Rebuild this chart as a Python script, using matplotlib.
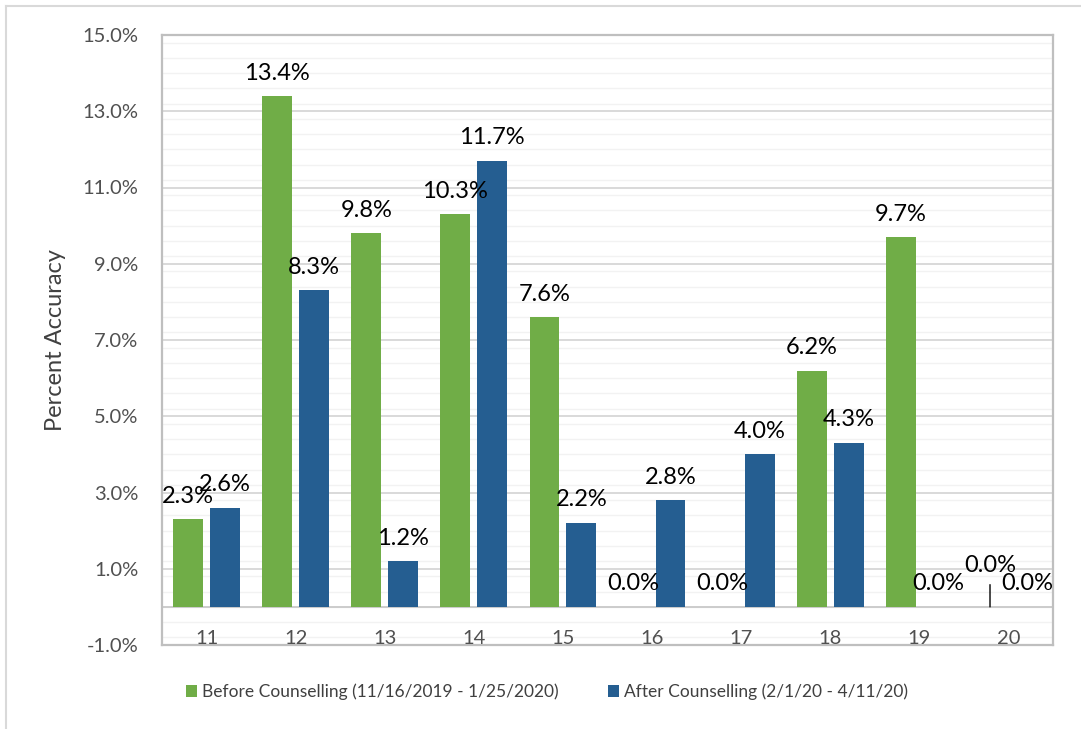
import numpy as np
import matplotlib.pyplot as plt
from matplotlib.lines import Line2D
from matplotlib.ticker import MultipleLocator

# percent accuracy per group, before and after counselling
groups = ['11', '12', '13', '14', '15', '16', '17', '18', '19', '20']
before = [2.3, 13.4, 9.8, 10.3, 7.6, 0.0, 0.0, 6.2, 9.7, 0.0]
after = [2.6, 8.3, 1.2, 11.7, 2.2, 2.8, 4.0, 4.3, 0.0, 0.0]
yticks = [-1, 1, 3, 5, 7, 9, 11, 13, 15]

label_before = 'Before Counselling (11/16/2019 - 1/25/2020)'
label_after = 'After Counselling (2/1/20 - 4/11/20)'

green = '#70AD47'
blue = '#255E91'
grey_txt = '#505050'

plt.rcParams['font.family'] = ['Lato', 'DejaVu Sans']

fig = plt.figure(figsize=(10.81, 7.29), dpi=100)
ax = fig.add_axes([162 / 1081, 1 - 645 / 729, (1053 - 162) / 1081, (645 - 35) / 729])

x = np.arange(len(groups))
w = 0.335
off = 0.207
b1 = ax.bar(x - off, before, w, color=green, label=label_before, zorder=3)
b2 = ax.bar(x + off, after, w, color=blue, label=label_after, zorder=3)

ax.set_xlim(-0.5, len(groups) - 0.5)
ax.set_ylim(-1, 15)
ax.set_yticks(yticks)
ax.set_yticklabels([f'{v:.1f}%' for v in yticks], color=grey_txt, fontsize=14.5)
ax.yaxis.set_minor_locator(MultipleLocator(0.4))
ax.tick_params(axis='y', which='both', length=0, pad=17)
ax.set_xticks([])

ax.grid(axis='y', which='major', color='#d9d9d9', lw=1.4, zorder=0)
ax.grid(axis='y', which='minor', color='#f2f2f2', lw=1.0, zorder=0)
ax.axhline(0, color='#c8c8c8', lw=1.3, zorder=2)
for s in ax.spines.values():
    s.set_color('#bfbfbf')
    s.set_linewidth(1.6)

# category labels sit inside the strip below the zero line
for i, g in enumerate(groups):
    ax.text(i, -0.97, g, ha='center', va='baseline', color=grey_txt, fontsize=14.5)

ax.set_ylabel('Percent Accuracy', color='#404040', fontsize=17, labelpad=12)

# value labels
for bars, vals in ((b1, before), (b2, after)):
    for r, v in zip(bars, vals):
        cx = r.get_x() + r.get_width() / 2
        if bars is b1 and r is bars[-1]:
            ax.annotate(f'{v:.1f}%', xy=(cx, v), xytext=(0, 22), textcoords='offset points',
                        ha='center', va='bottom', fontsize=17, color='black',
                        arrowprops=dict(arrowstyle='-', color='black', lw=1,
                                        shrinkA=4, shrinkB=0))
        else:
            ax.annotate(f'{v:.1f}%', xy=(cx, v), xytext=(0, 9), textcoords='offset points',
                        ha='center', va='bottom', fontsize=17, color='black')

fig.legend(handles=[b1, b2], loc='center', bbox_to_anchor=(0.506, 0.051), ncol=2,
           frameon=False, fontsize=12.5, handlelength=0.65, handleheight=0.65,
           handletextpad=0.3, columnspacing=2.8, labelcolor='#404040')

# outer chart frame
fig.add_artist(Line2D([6 / 1081, 1], [1 - 6 / 729, 1 - 6 / 729], color='#d9d9d9', lw=1.5,
                      transform=fig.transFigure))
fig.add_artist(Line2D([6 / 1081, 6 / 1081], [0, 1 - 6 / 729], color='#d9d9d9', lw=1.5,
                      transform=fig.transFigure))

fig.savefig('out.png', dpi=100)
